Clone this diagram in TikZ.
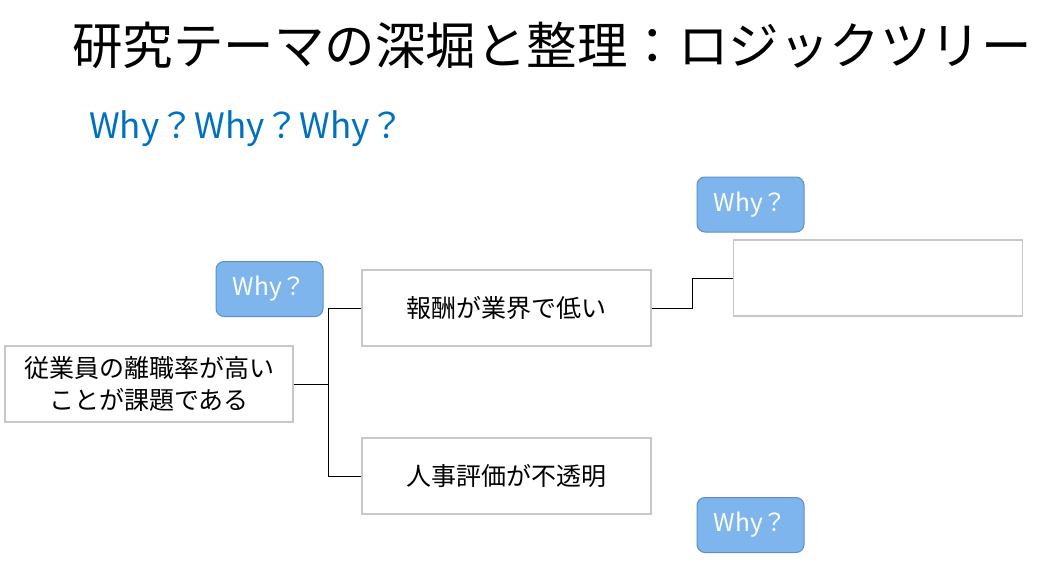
\documentclass[tikz,border=0pt]{standalone}
\usepackage{fontspec}
\setmainfont{Noto Sans CJK JP}
\definecolor{whyfill}{HTML}{7DB5EC}
\definecolor{whyedge}{HTML}{5E8FCB}
\definecolor{boxedge}{HTML}{C8C8C8}
\definecolor{titleblue}{HTML}{0070C0}
\begin{document}
\begin{tikzpicture}[x=1pt,y=-1pt,
  tbox/.style={draw=boxedge,line width=1.2pt,fill=white,minimum width=289pt,minimum height=76pt,inner sep=0pt,align=center,font=\fontsize{25}{32}\selectfont},
  whybox/.style={draw=whyedge,line width=1pt,fill=whyfill,rounded corners=8pt,minimum width=107pt,minimum height=55pt,inner sep=0pt,text=white,font=\fontsize{24.5}{28}\selectfont},
  conn/.style={draw=black,line width=1pt}]
\useasboundingbox (0,0) rectangle (1047,570);
\fill[white] (0,0) rectangle (1047,570);
\node[anchor=center,font=\fontsize{50.5}{56}\selectfont] (title) at (552,45) {研究テーマの深堀と整理：ロジックツリー};
\node[anchor=west,text=titleblue,font=\fontsize{35}{40}\selectfont,inner sep=0pt] (whyline) at (89,129) {Why？Why？Why？};
\node[tbox,minimum width=288pt] (root) at (149,384) {従業員の離職率が高い\\ことが課題である};
\node[tbox] (m1) at (506.5,308) {報酬が業界で低い};
\node[tbox] (m2) at (506.5,476) {人事評価が不透明};
\node[tbox] (r1) at (878,278) {};
\node[whybox] (w1) at (269.5,289) {Why？};
\node[whybox] (w2) at (750.5,204.5) {Why？};
\node[whybox] (w3) at (750.5,525) {Why？};
\coordinate (j1) at (328,384);
\coordinate (j2) at (692,308);
\draw[conn] (root.east) -- (j1);
\draw[conn] (j1) |- (m1.west);
\draw[conn] (j1) |- (m2.west);
\draw[conn] (m1.east) -- (j2) |- (r1.west);
\end{tikzpicture}
\end{document}
